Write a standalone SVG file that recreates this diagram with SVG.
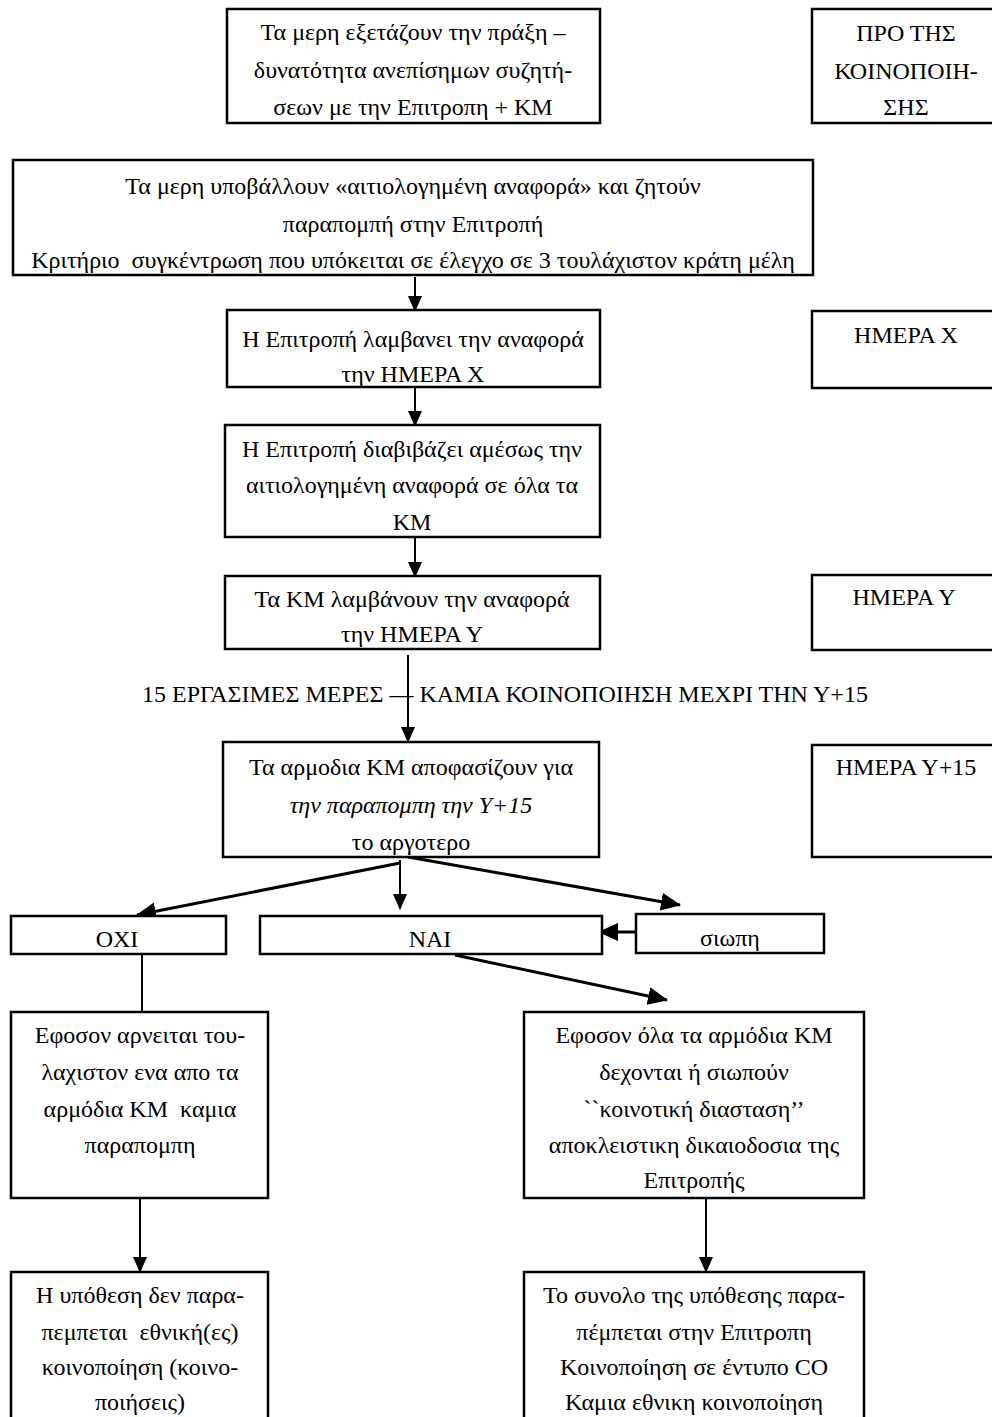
<svg xmlns="http://www.w3.org/2000/svg" width="992" height="1417" viewBox="0 0 992 1417">
<style>
.box{fill:#fff;stroke:#000;stroke-width:2.5}
text{font-family:"Liberation Serif","Times New Roman",serif;font-size:24px;fill:#000;text-anchor:middle;white-space:pre}
.c{stroke:#000;stroke-width:2;fill:none}
.d{stroke:#000;stroke-width:3;fill:none}
</style>
<defs>
<marker id="ah" markerUnits="userSpaceOnUse" markerWidth="16" markerHeight="14" refX="15" refY="7" orient="auto"><path d="M0,0 L16,7 L0,14 z" fill="#000"/></marker>
<marker id="ahL" markerUnits="userSpaceOnUse" markerWidth="20" markerHeight="18" refX="19" refY="9" orient="auto"><path d="M0,0 L20,9 L0,18 z" fill="#000"/></marker>
</defs>
<rect width="992" height="1417" fill="#fff"/>

<g id="connectors">
<line class="c" x1="415" y1="277" x2="415" y2="311" marker-end="url(#ah)"/>
<line class="c" x1="415" y1="372" x2="415" y2="426" marker-end="url(#ah)"/>
<line class="c" x1="415" y1="537" x2="415" y2="577" marker-end="url(#ah)"/>
<line class="c" x1="408" y1="655" x2="408" y2="742" marker-end="url(#ah)"/>
<line class="d" x1="400" y1="863" x2="137" y2="915" marker-end="url(#ahL)"/>
<line class="c" x1="400" y1="860" x2="400" y2="909" marker-end="url(#ah)"/>
<line class="d" x1="408" y1="857" x2="680" y2="905" marker-end="url(#ahL)"/>
<line class="d" x1="636" y1="932" x2="599" y2="932" marker-end="url(#ahL)"/>
<line class="d" x1="455" y1="955" x2="667" y2="1000" marker-end="url(#ahL)"/>
<line class="c" x1="142" y1="954" x2="142" y2="1012"/>
<line class="c" x1="140" y1="1198" x2="140" y2="1272" marker-end="url(#ah)"/>
<line class="c" x1="706" y1="1198" x2="706" y2="1272" marker-end="url(#ah)"/>
</g>

<g id="n1">
<rect class="box" x="227" y="9" width="373" height="114"/>
<text x="413" y="40">Τα μερη εξετάζουν την πράξη –</text>
<text x="413" y="78">δυνατότητα ανεπίσημων συζητή-</text>
<text x="413" y="115">σεων με την Επιτροπη + ΚΜ</text>
</g>
<g id="n_pro">
<rect class="box" x="812" y="9" width="200" height="114"/>
<text x="906" y="41">ΠΡΟ ΤΗΣ</text>
<text x="906" y="79">ΚΟΙΝΟΠΟΙΗ-</text>
<text x="906" y="115">ΣΗΣ</text>
</g>
<g id="n2">
<rect class="box" x="13" y="160" width="800" height="115"/>
<text x="413" y="194">Τα μερη υποβάλλουν «αιτιολογημένη αναφορά» και ζητούν</text>
<text x="413" y="232">παραπομπή στην Επιτροπή</text>
<text x="413" y="268">Κριτήριο  συγκέντρωση που υπόκειται σε έλεγχο σε 3 τουλάχιστον κράτη μέλη</text>
</g>
<g id="n3">
<rect class="box" x="227" y="310" width="373" height="77"/>
<text x="413" y="347">Η Επιτροπή λαμβανει την αναφορά</text>
<text x="413" y="382">την ΗΜΕΡΑ Χ</text>
</g>
<g id="n_x">
<rect class="box" x="812" y="311" width="200" height="77"/>
<text x="906" y="343">ΗΜΕΡΑ Χ</text>
</g>
<g id="n4">
<rect class="box" x="225" y="425" width="375" height="112"/>
<text x="412" y="457">Η Επιτροπή διαβιβάζει αμέσως την</text>
<text x="412" y="493">αιτιολογημένη αναφορά σε όλα τα</text>
<text x="412" y="530">ΚΜ</text>
</g>
<g id="n5">
<rect class="box" x="225" y="576" width="375" height="73"/>
<text x="412" y="607">Τα ΚΜ λαμβάνουν την αναφορά</text>
<text x="412" y="642">την ΗΜΕΡΑ Υ</text>
</g>
<g id="n_y">
<rect class="box" x="812" y="575" width="200" height="75"/>
<text x="904" y="605">ΗΜΕΡΑ Υ</text>
</g>
<g id="label15">
<text x="142" y="702" style="text-anchor:start">15 ΕΡΓΑΣΙΜΕΣ ΜΕΡΕΣ — ΚΑΜΙΑ ΚΟΙΝΟΠΟΙΗΣΗ ΜΕΧΡΙ ΤΗΝ Υ+15</text>
</g>
<g id="n6">
<rect class="box" x="223" y="742" width="376" height="115"/>
<text x="411" y="775">Τα αρμοδια ΚΜ αποφασίζουν για</text>
<text x="411" y="813" font-style="italic">την παραπομπη την Υ+15</text>
<text x="411" y="850">το αργοτερο</text>
</g>
<g id="n_y15">
<rect class="box" x="812" y="745" width="200" height="112"/>
<text x="906" y="775">ΗΜΕΡΑ Υ+15</text>
</g>
<g id="n_oxi">
<rect class="box" x="11" y="916" width="215" height="38"/>
<text x="117" y="947">ΟΧΙ</text>
</g>
<g id="n_nai">
<rect class="box" x="260" y="916" width="342" height="38"/>
<text x="430" y="947">ΝΑΙ</text>
</g>
<g id="n_siopi">
<rect class="box" x="636" y="914" width="188" height="39"/>
<text x="730" y="946">σιωπη</text>
</g>
<g id="n7">
<rect class="box" x="11" y="1012" width="257" height="186"/>
<text x="140" y="1043">Εφοσον αρνειται του-</text>
<text x="140" y="1080">λαχιστον ενα απο τα</text>
<text x="140" y="1117">αρμόδια ΚΜ  καμια</text>
<text x="140" y="1153">παραπομπη</text>
</g>
<g id="n8">
<rect class="box" x="524" y="1012" width="340" height="186"/>
<text x="694" y="1043">Εφοσον όλα τα αρμόδια ΚΜ</text>
<text x="694" y="1080">δεχονται ή σιωπούν</text>
<text x="694" y="1117">``κοινοτική διασταση’’</text>
<text x="694" y="1153">αποκλειστικη δικαιοδοσια της</text>
<text x="694" y="1188">Επιτροπής</text>
</g>
<g id="n9">
<rect class="box" x="11" y="1272" width="257" height="160"/>
<text x="140" y="1303">Η υπόθεση δεν παρα-</text>
<text x="140" y="1340">πεμπεται  εθνική(ες)</text>
<text x="140" y="1375">κοινοποίηση (κοινο-</text>
<text x="140" y="1410">ποιήσεις)</text>
</g>
<g id="n10">
<rect class="box" x="524" y="1272" width="340" height="160"/>
<text x="694" y="1303">Το συνολο της υπόθεσης παρα-</text>
<text x="694" y="1340">πέμπεται στην Επιτροπη</text>
<text x="694" y="1375">Κοινοποίηση σε έντυπο CO</text>
<text x="694" y="1410">Καμια εθνικη κοινοποίηση</text>
</g>
</svg>
